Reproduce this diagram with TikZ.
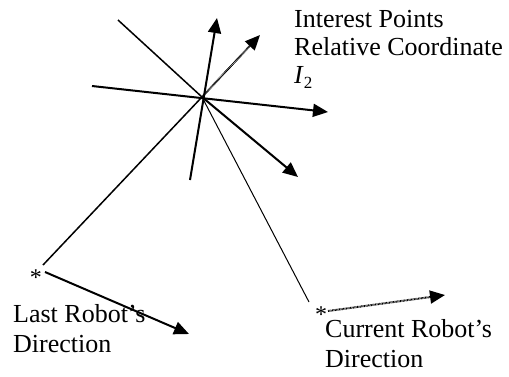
\documentclass[tikz,border=0pt]{standalone}
\usepackage{fontspec}
\setmainfont{Liberation Serif}
\usetikzlibrary{arrows.meta}
\begin{document}
\begin{tikzpicture}[x=1pt,y=-1pt,
  lbl/.style={font=\fontsize{26}{30}\selectfont, inner sep=0pt, anchor=base west},
  starnode/.style={font=\fontsize{24}{24}\selectfont, inner sep=0pt, anchor=base},
  thickln/.style={line width=2pt},
  midln/.style={line width=1.5pt},
  thinln/.style={line width=1pt},
  dotln/.style={line width=2pt, dash pattern=on 0.8pt off 0.6pt},
  tip/.style={-{Triangle[length=15pt,width=13pt]}}]
\useasboundingbox (0,0) rectangle (509,376);
% coordinates
\coordinate (c) at (202,97);
\coordinate (ul) at (118,20);
\coordinate (lr) at (298,177);
\coordinate (ub) at (190,180);
\coordinate (ut) at (217,18);
\coordinate (hl) at (92,86);
\coordinate (hr) at (328,112);
\coordinate (dt) at (260,35);
\coordinate (ls) at (43,265);
\coordinate (lsa) at (45,272);
\coordinate (lst) at (189,334);
\coordinate (cs) at (309,302);
\coordinate (csa) at (328,311);
\coordinate (cst) at (445,295);
% stars
\node[starnode] (lstar) at (36,285) {\smash{*}};
\node[starnode] (cstar) at (321,322) {\smash{*}};
% lines through interest point
\draw[midln] (ul) -- (c);
\draw[thickln,tip] (c) -- (lr);
\draw[thickln,tip] (ub) -- (ut);
\draw[thickln,tip] (hl) -- (hr);
\draw[midln] (ls) -- (c);
\draw[dotln,tip] (c) -- (dt);
\draw[thinln] (c) -- (cs);
% robot directions
\draw[thickln,tip] (lsa) -- (lst);
\draw[dotln,tip] (csa) -- (cst);
% labels
\node[lbl] (ip1) at (294,27) {Interest Points};
\node[lbl] (ip2) at (294,55) {Relative Coordinate};
\node[lbl] (ip3) at (294,83) {\textit{I}\raisebox{-5pt}{\fontsize{17}{17}\selectfont 2}};
\node[lbl] (lr1) at (13,322) {Last Robot’s};
\node[lbl] (lr2) at (13,352) {Direction};
\node[lbl] (cr1) at (325,337) {Current Robot’s};
\node[lbl] (cr2) at (325,367) {Direction};
\end{tikzpicture}
\end{document}
